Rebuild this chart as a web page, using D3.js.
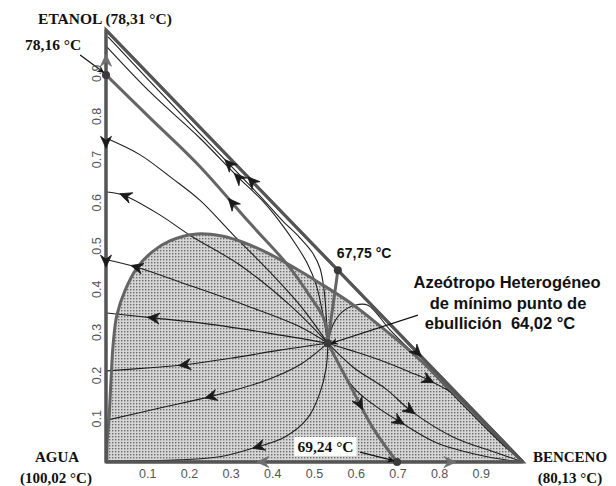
<!DOCTYPE html>
<html>
<head>
<meta charset="utf-8">
<script src="https://cdn.jsdelivr.net/npm/d3@7"></script>
<style>
  body { margin: 0; background: #fff; }
  svg { display: block; }
</style>
</head>
<body>
<div id="chart"></div>
<script>
// fracciones molares: x = benceno, y = etanol (agua = 1 - x - y)
const xTicks = [0.1, 0.2, 0.3, 0.4, 0.5, 0.6, 0.7, 0.8, 0.9]
const yTicks = [0.1, 0.2, 0.3, 0.4, 0.5, 0.6, 0.7, 0.8, 0.9]

const corners = [[0, 0], [1, 0], [0, 1]]
const edgeBottom = [[0, 0], [1, 0]]
const edgeLeft = [[0, 0], [0, 1]]
const edgeHyp = [[0, 1], [1, 0]]

// curva binodal (region heterogenea)
const binodal = [[0.002, 0], [0.003, 0.05], [0.007, 0.097], [0.012, 0.19], [0.017, 0.271], [0.026, 0.34],
  [0.046, 0.398], [0.074, 0.449], [0.11, 0.486], [0.153, 0.512], [0.218, 0.528], [0.278, 0.523],
  [0.333, 0.507], [0.393, 0.481], [0.453, 0.449], [0.513, 0.414], [0.585, 0.369], [0.657, 0.315],
  [0.729, 0.257], [0.801, 0.192], [0.873, 0.122], [0.945, 0.053], [1, 0]]

// fronteras de destilacion
const boundaryA = [[0, 0.896], [0.106, 0.796], [0.225, 0.684], [0.345, 0.553], [0.434, 0.458],
  [0.489, 0.384], [0.525, 0.326], [0.532, 0.275]]
const boundaryB = [[0.556, 0.444], [0.549, 0.394], [0.540, 0.333], [0.532, 0.275]]
const boundaryC = [[0.532, 0.275], [0.585, 0.178], [0.640, 0.079], [0.698, 0]]

// curvas de residuo
const e1 = [[0.005, 0.984], [0.177, 0.808], [0.321, 0.664], [0.374, 0.611], [0.422, 0.560], [0.465, 0.519],
  [0.494, 0.486], [0.513, 0.449], [0.523, 0.398], [0.528, 0.340], [0.532, 0.275]]
const e2 = [[0.002, 0.961], [0.106, 0.856], [0.225, 0.75], [0.314, 0.662], [0.374, 0.606], [0.417, 0.556],
  [0.453, 0.507], [0.482, 0.461], [0.504, 0.410], [0.518, 0.352], [0.532, 0.275]]
const r1 = [[0, 0.75], [0.082, 0.711], [0.158, 0.657], [0.225, 0.606], [0.305, 0.526], [0.393, 0.440],
  [0.465, 0.363], [0.532, 0.275]]
const r2 = [[0.002, 0.625], [0.041, 0.618], [0.129, 0.572], [0.201, 0.525], [0.321, 0.456], [0.441, 0.363], [0.532, 0.275]]
const r3 = [[0.002, 0.468], [0.074, 0.451], [0.185, 0.414], [0.345, 0.359], [0.465, 0.313], [0.532, 0.275]]
const r4 = [[0.002, 0.345], [0.118, 0.333], [0.225, 0.322], [0.386, 0.299], [0.532, 0.275]]
const r5 = [[0.002, 0.211], [0.106, 0.218], [0.189, 0.225], [0.305, 0.241], [0.417, 0.259], [0.532, 0.275]]
const r6 = [[0.002, 0.097], [0.129, 0.125], [0.257, 0.153], [0.386, 0.19], [0.465, 0.225], [0.532, 0.275]]
const r7 = [[0, 0.002], [0.177, 0.005], [0.273, 0.012], [0.345, 0.03], [0.429, 0.058], [0.484, 0.102],
  [0.513, 0.16], [0.528, 0.218], [0.532, 0.275]]
const b0 = [[0.532, 0.275], [0.544, 0.317], [0.566, 0.347], [0.597, 0.363], [0.628, 0.363], [0.681, 0.306],
  [0.753, 0.236], [0.849, 0.139], [0.945, 0.046], [1, 0]]
const b1 = [[0.532, 0.275], [0.585, 0.259], [0.657, 0.236], [0.729, 0.208], [0.777, 0.188], [0.837, 0.155],
  [0.897, 0.097], [0.957, 0.037], [1, 0]]
const b2 = [[0.532, 0.275], [0.592, 0.220], [0.674, 0.167], [0.729, 0.120], [0.832, 0.058], [0.938, 0.021], [1, 0]]
const b3 = [[0.532, 0.275], [0.592, 0.174], [0.650, 0.127], [0.705, 0.093], [0.794, 0.044], [0.914, 0.012], [1, 0]]

// puntos azeotropicos
const azeotropes = [[0, 0.896], [0.556, 0.444], [0.532, 0.275], [0.698, 0]]

// flechas: [curva, posicion relativa, sentido]
const arrowMarks = [
  ['r2', 0.07, -1], ['r3', 0.13, -1], ['r4', 0.21, -1], ['r5', 0.35, -1], ['r6', 0.45, -1], ['r7', 0.53, -1],
  ['e1', 0.45, -1], ['e2', 0.49, -1], ['boundaryA', 0.51, -1], ['boundaryC', 0.5, 1],
  ['b1', 0.46, 1], ['b2', 0.46, 1], ['b3', 0.45, 1],
  ['edgeHyp', 0.35, -1], ['edgeHyp', 0.746, 1],
  ['edgeLeft', 0.74, -1], ['edgeLeft', 0.465, -1]
]
const grayArrowMarks = [['edgeBottom', 0.376, -1], ['edgeBottom', 0.825, 1], ['edgeLeft', 0.93, 1]]

// anotaciones: [desde, hasta]
const notes = [
  [[-0.062, 0.942], [-0.006, 0.902]],
  [[0.748, 0.340], [0.540, 0.275]],
  [[0.609, 0.023], [0.690, 0.003]]
]

const W = 616, H = 486
const x = d3.scaleLinear().domain([0, 1]).range([106, 523])
const y = d3.scaleLinear().domain([0, 1]).range([462, 30])

const svg = d3.select('#chart').append('svg').attr('width', W).attr('height', H)
  .style('font-family', '"Liberation Sans", Arial, sans-serif')

const defs = svg.append('defs')
const pat = defs.append('pattern').attr('id', 'dots').attr('patternUnits', 'userSpaceOnUse')
  .attr('width', 3).attr('height', 3)
pat.append('rect').attr('width', 3).attr('height', 3).attr('fill', '#d6d6d6')
pat.append('rect').attr('x', 1).attr('y', 1).attr('width', 1.4).attr('height', 1.4).attr('fill', '#6a6a6a')

defs.append('marker').attr('id', 'head').attr('viewBox', '0 0 10 10')
  .attr('refX', 9).attr('refY', 5).attr('markerWidth', 7).attr('markerHeight', 7)
  .attr('orient', 'auto').attr('markerUnits', 'userSpaceOnUse')
  .append('path').attr('d', 'M0,0 L10,5 L0,10 L3,5 Z').attr('fill', '#111')

const smooth = d3.line().x(d => x(d[0])).y(d => y(d[1])).curve(d3.curveCatmullRom.alpha(0.5))
const straight = d3.line().x(d => x(d[0])).y(d => y(d[1]))

// region heterogenea sombreada
svg.append('path').attr('d', smooth(binodal) + 'Z').attr('fill', 'url(#dots)')

const paths = {}
const thin = { e1, e2, r1, r2, r3, r4, r5, r6, r7, b0, b1, b2, b3 }
Object.entries(thin).forEach(([k, d]) => {
  paths[k] = svg.append('path').attr('d', smooth(d))
    .attr('fill', 'none').attr('stroke', '#1e1e1e').attr('stroke-width', 1.1).node()
})

const thick = { binodal, boundaryA, boundaryB, boundaryC }
Object.entries(thick).forEach(([k, d]) => {
  paths[k] = svg.append('path').attr('d', smooth(d))
    .attr('fill', 'none').attr('stroke', '#656565').attr('stroke-width', 3).node()
})

const edges = { edgeBottom, edgeLeft, edgeHyp }
Object.entries(edges).forEach(([k, d]) => {
  paths[k] = svg.append('path').attr('d', straight(d))
    .attr('fill', 'none').attr('stroke', '#555').attr('stroke-width', 3).node()
})
svg.append('path').attr('d', straight(corners) + 'Z')
  .attr('fill', 'none').attr('stroke', '#555').attr('stroke-width', 3).attr('stroke-linejoin', 'miter')

function drawArrow(spec, color) {
  const node = paths[spec[0]]
  const L = node.getTotalLength()
  const s = L * spec[1]
  const p = node.getPointAtLength(s)
  const q = node.getPointAtLength(Math.max(0, Math.min(L, s + spec[2] * 3)))
  const ang = Math.atan2(q.y - p.y, q.x - p.x) * 180 / Math.PI
  svg.append('path')
    .attr('d', 'M6,0 L-6,-5.5 L-2,0 L-6,5.5 Z')
    .attr('transform', `translate(${p.x},${p.y}) rotate(${ang})`)
    .attr('fill', color).attr('stroke', color).attr('stroke-width', 0.8).attr('stroke-linejoin', 'round')
}
arrowMarks.forEach(a => drawArrow(a, '#1a1a1a'))
grayArrowMarks.forEach(a => drawArrow(a, '#707070'))

// puntos
svg.selectAll('.azeo').data(azeotropes).enter().append('circle')
  .attr('cx', d => x(d[0])).attr('cy', d => y(d[1])).attr('r', 4)
  .attr('fill', '#3a3a3a')

// anotaciones
svg.selectAll('.note').data(notes).enter().append('line')
  .attr('x1', d => x(d[0][0])).attr('y1', d => y(d[0][1]))
  .attr('x2', d => x(d[1][0])).attr('y2', d => y(d[1][1]))
  .attr('stroke', '#111').attr('stroke-width', 1.2).attr('marker-end', 'url(#head)')

// etiquetas de ejes
svg.selectAll('.xt').data(xTicks).enter().append('text')
  .attr('x', d => x(d)).attr('y', y(0) + 16)
  .attr('text-anchor', 'middle').attr('fill', '#555').attr('font-size', '12.5px')
  .text(d => d.toFixed(1))

svg.selectAll('.yt').data(yTicks).enter().append('text')
  .attr('transform', d => `translate(${x(0) - 5},${y(d)}) rotate(-90)`)
  .attr('text-anchor', 'middle').attr('fill', '#555').attr('font-size', '12.5px')
  .text(d => d.toFixed(1))

const serif = '"Liberation Serif", "Times New Roman", serif'
function label(px, py, txt, anchor, font, size) {
  return svg.append('text').attr('x', px).attr('y', py).attr('text-anchor', anchor)
    .attr('font-family', font).attr('font-weight', 'bold').attr('font-size', size)
    .attr('fill', '#111').text(txt)
}

label(x(0) - 1, y(1) - 6, 'ETANOL (78,31 °C)', 'middle', serif, '15.5px')
label(25, 50, '78,16 °C', 'start', serif, '15.5px')
label(57, y(0), 'AGUA', 'middle', serif, '15px')
label(56, y(0) + 21, '(100,02 °C)', 'middle', serif, '15px')
label(x(1) + 47, y(0), 'BENCENO', 'middle', serif, '15px')
label(x(1) + 47, y(0) + 21, '(80,13 °C)', 'middle', serif, '15px')
label(x(0.556) - 1, y(0.444) - 12, '67,75 °C', 'start', undefined, '14px')
label(507, 288, 'Azeótropo Heterogéneo', 'middle', undefined, '16.5px')
label(508, 309, 'de mínimo punto de', 'middle', undefined, '16.5px')
label(500, 329, 'ebullición  64,02 °C', 'middle', undefined, '16.5px').attr('xml:space', 'preserve')
  .style('white-space', 'pre')

const t69 = label(x(0.459), y(0) - 10, '69,24 °C', 'start', serif, '15.5px')
const bb = t69.node().getBBox()
svg.insert('rect', () => t69.node())
  .attr('x', bb.x - 3).attr('y', bb.y - 1).attr('width', bb.width + 6).attr('height', bb.height + 2)
  .attr('fill', '#fff')
</script>
</body>
</html>
